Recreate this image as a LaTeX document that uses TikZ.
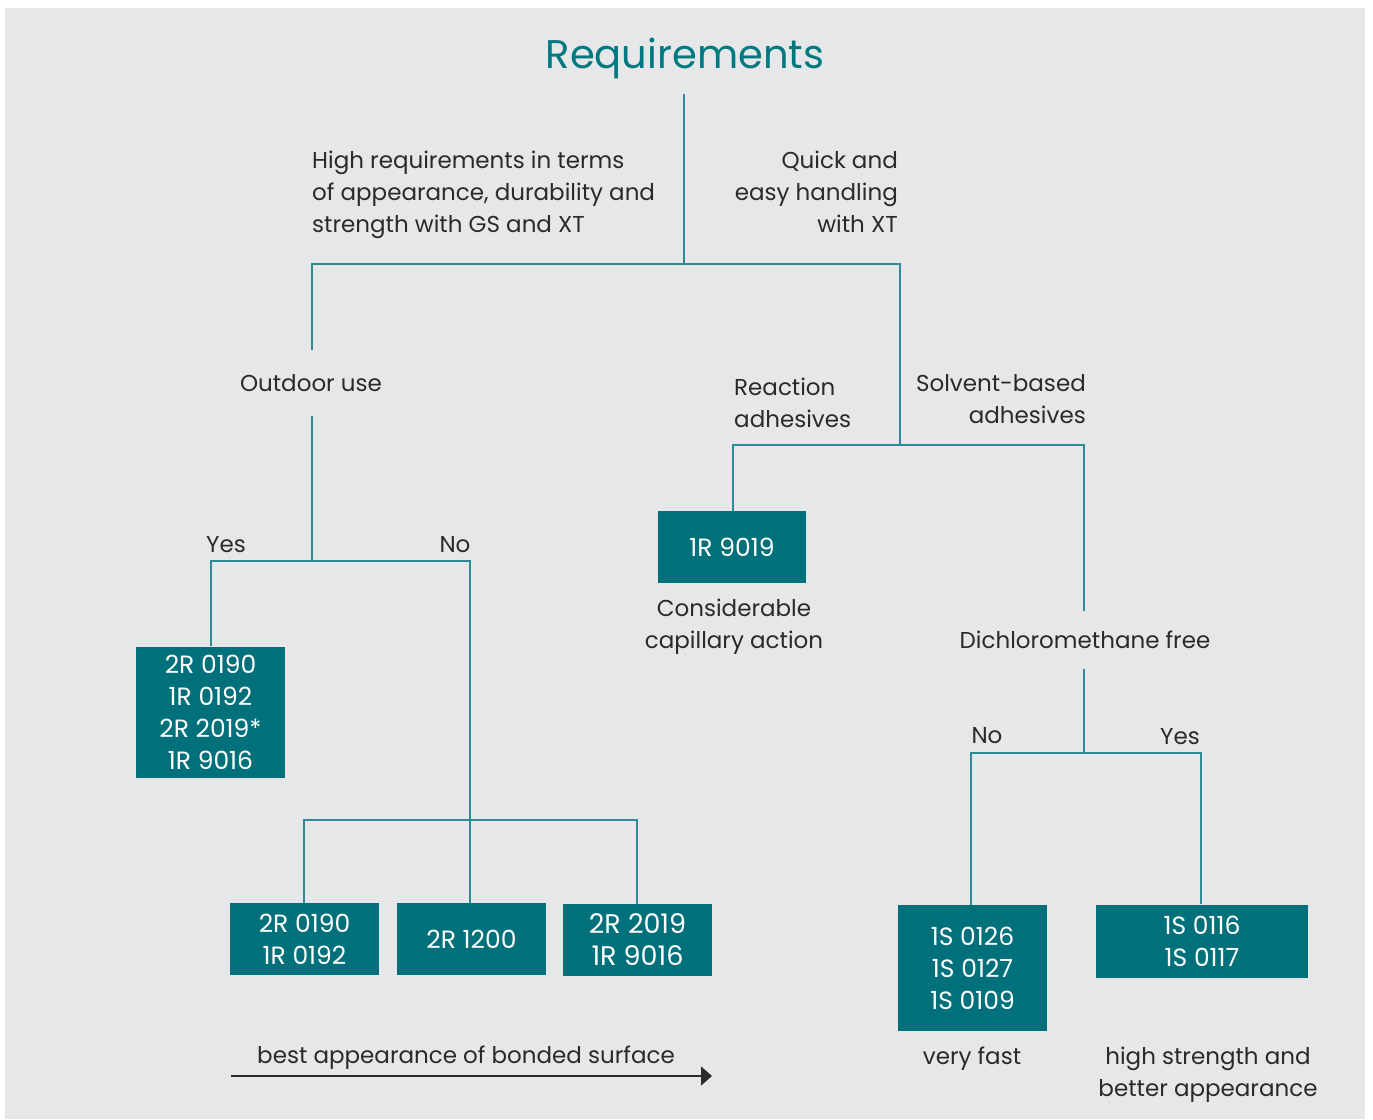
\documentclass[tikz,border=0pt]{standalone}
\usepackage{fontspec}
\setmainfont{Poppins}
\usetikzlibrary{arrows.meta}
\definecolor{bg}{HTML}{E6E7E9}
\definecolor{boxc}{HTML}{00707B}
\definecolor{linec}{HTML}{2F8A95}
\definecolor{titlec}{HTML}{00787F}
\definecolor{txt}{HTML}{2A2A2A}
\begin{document}
\begin{tikzpicture}[x=1pt,y=-1pt,
  lbl/.style={inner sep=0pt, text=txt, font=\fontsize{23}{32}\selectfont},
  prod/.style={fill=boxc, text=white, inner sep=0pt, font=\fontsize{25}{32}\selectfont, align=center, minimum width=149pt},
  conn/.style={draw=linec, line width=1.6pt},
  flow/.style={draw=txt, line width=1.4pt, -{Triangle[length=11pt,width=19pt]}}
]
\useasboundingbox (0,0) rectangle (1373,1119);
\fill[white] (0,0) rectangle (1373,1119);
\fill[bg] (5,8) rectangle (1365,1119);

% title and texts
\node[inner sep=0pt, text=titlec, font=\fontsize{40}{44}\selectfont] (title) at (685,58) {Requirements};
\node[lbl, align=left, anchor=west] (high) at (312,195) {High requirements in terms\\of appearance, durability and\\strength with GS and XT};
\node[lbl, align=right, anchor=east] (quick) at (898,192) {Quick and\\easy handling\\with XT};
\node[lbl, minimum height=66pt] (outdoor) at (311,383) {Outdoor use};
\node[lbl] (yes1) at (226,545) {Yes};
\node[lbl] (no1) at (455,545) {No};
\node[lbl, align=left, anchor=west] (react) at (734,403) {Reaction\\adhesives};
\node[lbl, align=right, anchor=east] (solv) at (1086,399) {Solvent-based\\adhesives};
\node[lbl, align=center] (capil) at (734,627) {Considerable\\capillary action};
\node[lbl, minimum height=58pt] (dcm) at (1085,640) {Dichloromethane free};
\node[lbl] (no2) at (987,736) {No};
\node[lbl] (yes2) at (1180,737) {Yes};
\node[lbl] (fast) at (972,1059) {very fast};
\node[lbl, align=center] (strong) at (1208,1075) {high strength and\\better appearance};
\node[lbl] (best) at (466,1058) {best appearance of bonded surface};

% product boxes
\node[prod, minimum height=131pt] (bA) at (210.5,712) {2R 0190\\1R 0192\\2R 2019*\\1R 9016};
\node[prod, minimum height=72pt] (bB1) at (304.5,939) {2R 0190\\1R 0192};
\node[prod, minimum height=72pt] (bB2) at (471.5,939) {2R 1200};
\node[prod, minimum height=72pt, font=\fontsize{27}{32}\selectfont] (bB3) at (637.5,940) {2R 2019\\1R 9016};
\node[prod, minimum width=148pt, minimum height=72pt] (bC) at (732,547) {1R 9019};
\node[prod, minimum height=126pt] (bD) at (972.5,968) {1S 0126\\1S 0127\\1S 0109};
\node[prod, minimum width=212pt, minimum height=73pt] (bE) at (1202,941) {1S 0116\\1S 0117};

% junctions
\coordinate (top) at (684,94);
\coordinate (jA) at (684,264);
\coordinate (jL) at (312,264);
\coordinate (jR) at (900,264);
\coordinate (jO) at (312,561);
\coordinate (jYes) at (211,561);
\coordinate (jNo) at (470,561);
\coordinate (jN) at (470,820);
\coordinate (jB1) at (304,820);
\coordinate (jB3) at (637,820);
\coordinate (jS) at (900,445);
\coordinate (jRa) at (733,445);
\coordinate (jSo) at (1084,445);
\coordinate (jD) at (1084,753);
\coordinate (jDn) at (971,753);
\coordinate (jDy) at (1201,753);
\coordinate (aL) at (231,1076);
\coordinate (aR) at (712,1076);

% connectors
\draw[conn] (top) -- (jA);
\draw[conn] (jL |- outdoor.north) -- (jL) -- (jR) -- (jS);
\draw[conn] (jL |- outdoor.south) -- (jO);
\draw[conn] (jYes |- bA.north) -- (jYes) -- (jNo) -- (jNo |- bB2.north);
\draw[conn] (jB1 |- bB1.north) -- (jB1) -- (jB3) -- (jB3 |- bB3.north);
\draw[conn] (jRa |- bC.north) -- (jRa) -- (jSo) -- (jSo |- dcm.north);
\draw[conn] (jSo |- dcm.south) -- (jD);
\draw[conn] (jDn |- bD.north) -- (jDn) -- (jDy) -- (jDy |- bE.north);
\draw[flow] (aL) -- (aR);
\end{tikzpicture}
\end{document}
